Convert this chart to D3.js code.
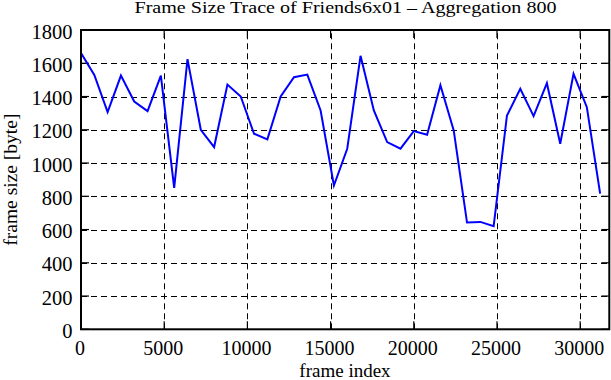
<!DOCTYPE html>
<html>
<head>
<meta charset="utf-8">
<script src="https://cdn.jsdelivr.net/npm/d3@7"></script>
<style>
  body { margin: 0; background: #fff; }
  text { font-family: "Liberation Serif", "DejaVu Serif", serif; fill: #000; }
</style>
</head>
<body>
<div id="chart"></div>
<script>
const width = 611, height = 380;
const margin = { top: 30, right: 1.7, bottom: 50.7, left: 81 };

// one sample every 800 frames
const step = 800;
const frameSizes = [
  1662, 1530, 1306, 1526, 1370, 1312, 1526, 850, 1625, 1200,
  1096, 1472, 1400, 1176, 1142, 1400, 1516, 1532, 1316, 865,
  1086, 1645, 1316, 1126, 1086, 1192, 1170, 1468, 1196, 642,
  646, 620, 1286, 1446, 1282, 1480, 1116, 1536, 1336, 816
];
const xTicks = [0, 5000, 10000, 15000, 20000, 25000, 30000];
const yTicks = [0, 200, 400, 600, 800, 1000, 1200, 1400, 1600, 1800];
const xMax = 31750, yMax = 1800;

const title = "Frame Size Trace of Friends6x01 \u2013 Aggregation 800";
const xLabel = "frame index";
const yLabel = "frame size [byte]";

const data = frameSizes.map((v, i) => ({ x: i * step, y: v }));

let svg = d3.select("#chart")
  .append("svg")
  .attr("width", width)
  .attr("height", height);

let x = d3.scaleLinear().domain([0, xMax]).range([margin.left, width - margin.right]);
let y = d3.scaleLinear().domain([0, yMax]).range([height - margin.bottom, margin.top]);

const x0 = x.range()[0], x1 = x.range()[1];
const y0 = y.range()[0], y1 = y.range()[1];

// grid
let grid = svg.append("g")
  .attr("stroke", "#000")
  .attr("stroke-width", 1)
  .attr("stroke-dasharray", "6,4");

grid.selectAll("line.h")
  .data(yTicks.filter(d => d > 0 && d < yMax))
  .enter().append("line")
  .attr("class", "h")
  .attr("x1", x0).attr("x2", x1)
  .attr("y1", d => Math.round(y(d)) + 0.5)
  .attr("y2", d => Math.round(y(d)) + 0.5);

grid.selectAll("line.v")
  .data(xTicks.filter(d => d > 0))
  .enter().append("line")
  .attr("class", "v")
  .attr("y1", y0).attr("y2", y1)
  .attr("x1", d => Math.round(x(d)) + 0.5)
  .attr("x2", d => Math.round(x(d)) + 0.5);

// ticks, mirrored and pointing inward
const tickLen = 8;
let ticks = svg.append("g").attr("stroke", "#000").attr("stroke-width", 1.2);

ticks.selectAll("line.yl").data(yTicks).enter().append("line")
  .attr("x1", x0).attr("x2", x0 + tickLen)
  .attr("y1", d => y(d)).attr("y2", d => y(d));
ticks.selectAll("line.yr").data(yTicks).enter().append("line")
  .attr("x1", x1).attr("x2", x1 - tickLen)
  .attr("y1", d => y(d)).attr("y2", d => y(d));
ticks.selectAll("line.xb").data(xTicks).enter().append("line")
  .attr("y1", y0).attr("y2", y0 - tickLen)
  .attr("x1", d => x(d)).attr("x2", d => x(d));
ticks.selectAll("line.xt").data(xTicks).enter().append("line")
  .attr("y1", y1).attr("y2", y1 + tickLen)
  .attr("x1", d => x(d)).attr("x2", d => x(d));

// the trace
let line = d3.line()
  .x(d => x(d.x))
  .y(d => y(d.y));

svg.append("path")
  .datum(data)
  .attr("fill", "none")
  .attr("stroke", "#0000ff")
  .attr("stroke-width", 2)
  .attr("stroke-linejoin", "miter")
  .attr("d", line);

// border
svg.append("rect")
  .attr("x", x0).attr("y", y1)
  .attr("width", x1 - x0).attr("height", y0 - y1)
  .attr("fill", "none")
  .attr("stroke", "#000")
  .attr("stroke-width", 2);

// tick labels
svg.append("g").selectAll("text")
  .data(yTicks).enter().append("text")
  .attr("x", x0 - 8.5)
  .attr("y", d => y(d) + 8.5)
  .attr("text-anchor", "end")
  .attr("font-size", 20.5)
  .text(d => d);

svg.append("g").selectAll("text")
  .data(xTicks).enter().append("text")
  .attr("x", d => x(d) - 1)
  .attr("y", y0 + 26)
  .attr("text-anchor", "middle")
  .attr("font-size", 20)
  .text(d => d);

// titles
svg.append("text")
  .attr("x", 134.5)
  .attr("y", 12.7)
  .attr("font-size", 16)
  .attr("textLength", 422)
  .attr("lengthAdjust", "spacingAndGlyphs")
  .text(title);

svg.append("text")
  .attr("x", 345)
  .attr("y", 377)
  .attr("text-anchor", "middle")
  .attr("font-size", 19)
  .text(xLabel);

svg.append("text")
  .attr("transform", `translate(17,${(y0 + y1) / 2}) rotate(-90)`)
  .attr("text-anchor", "middle")
  .attr("font-size", 19.5)
  .text(yLabel);
</script>
</body>
</html>
